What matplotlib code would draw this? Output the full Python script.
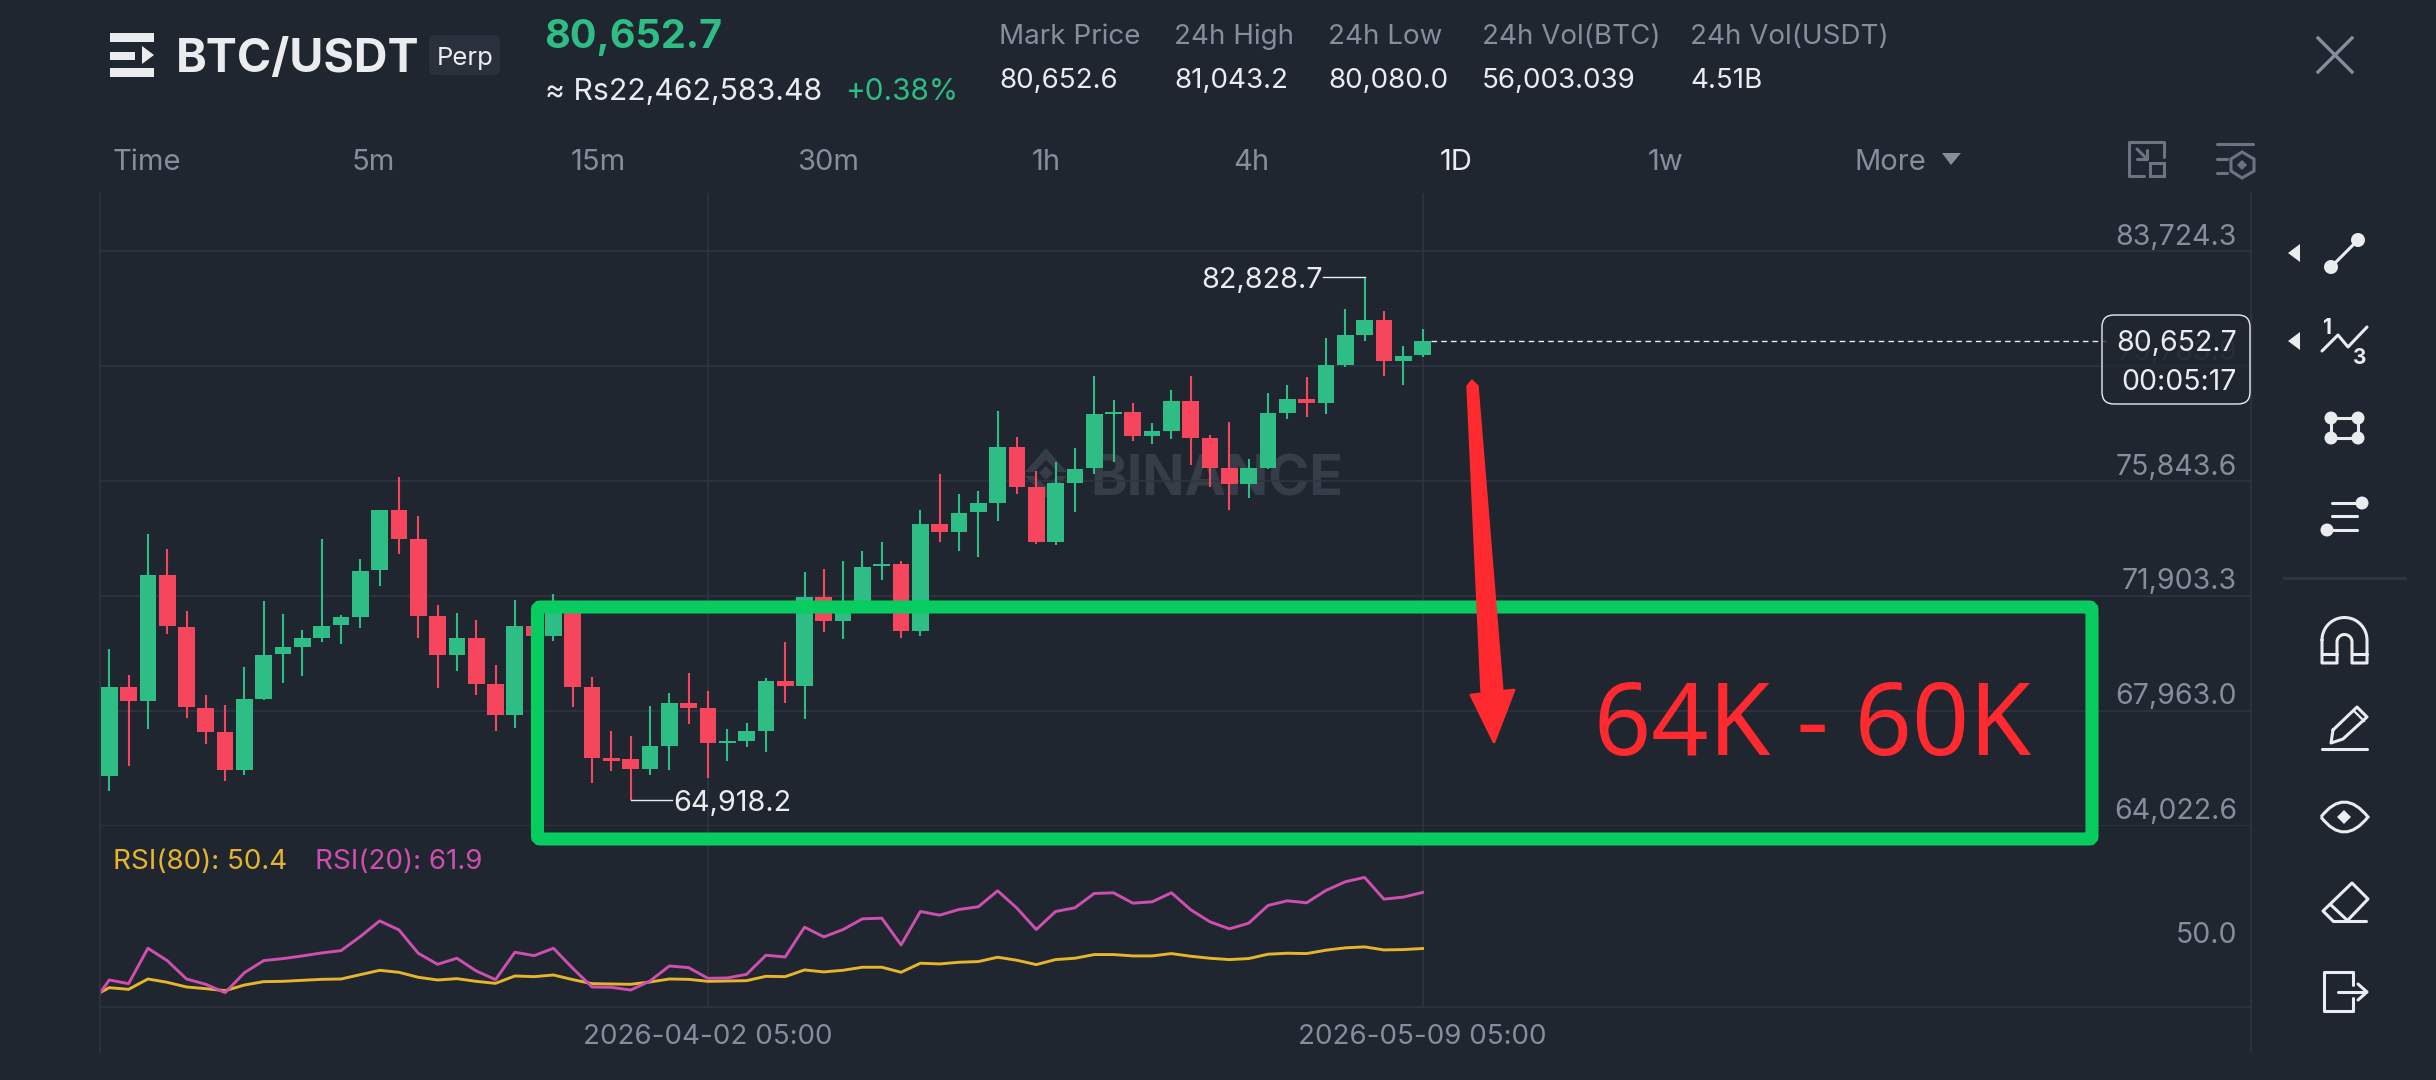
import numpy as np
import matplotlib
matplotlib.use('Agg')
import matplotlib.pyplot as plt
from matplotlib.patches import FancyBboxPatch, Polygon, PathPatch, Circle
from matplotlib.path import Path

plt.rcParams['font.family'] = ['Inter', 'DejaVu Sans']

# daily candles
highs = [70088, 69196, 74031, 73517, 71368, 68511, 68145, 69471, 71734, 71265, 70739, 73848, 71254, 73174, 74854,
         75974, 74626, 71585, 71322, 71059, 69539, 71768, 70945, 71974, 71608, 69128, 67265, 67082, 68133, 68579,
         69265, 68625, 67322, 67539, 69093, 70305, 72728, 72831, 73105, 73437, 73757, 73083, 74854, 76066, 75403,
         75483, 78259, 77356, 76201, 76510, 76978, 79436, 78636, 78521, 77836, 78979, 79436, 77424, 77859, 76613,
         78864, 79139, 79424, 80750, 81733, 82828.7, 81676, 80465, 81043.2]
lows = [65207, 66064, 67345, 70602, 67699, 66830, 65550, 65756, 68328, 68922, 69139, 70328, 70248, 70808, 72225,
        73323, 70454, 68739, 69333, 68499, 67287, 67379, 70511, 70362, 68099, 65482, 65882, 64918.2, 65744, 65927,
        67516, 65664, 66225, 66727, 66556, 68225, 67688, 70659, 70419, 71688, 72442, 70454, 70511, 73745, 73437,
        73243, 74464, 75390, 73687, 73652, 74772, 76075, 76498, 77207, 77104, 77276, 76407, 75630, 74864, 75264,
        76258, 77973, 78030, 78133, 79756, 80647, 79459, 79127, 80080.0]
opens = [65733, 68785, 68293, 72625, 70842, 68065, 67219, 65927, 68373, 69894, 70145, 70476, 70888, 71174, 72774,
         74831, 73860, 71197, 69882, 70465, 68865, 67825, 70854, 70522, 71459, 68773, 66350, 66316, 65962, 66750,
         68225, 68065, 66853, 66910, 67265, 68991, 68808, 71871, 71025, 71734, 72911, 73002, 70694, 74374, 74100,
         74774, 75104, 77024, 75641, 73744, 75790, 76281, 78133, 78213, 77390, 77573, 78601, 77321, 76281, 75744,
         76293, 78190, 78647, 78521, 79813, 80865, 81379, 79962, 80156]
closes = [68785, 68293, 72625, 70854, 68076, 67219, 65927, 68373, 69882, 70134, 70465, 70877, 71162, 72762, 74831,
          73860, 71197, 69882, 70465, 68876, 67825, 70854, 70522, 71459, 68773, 66350, 66247, 65962, 66750, 68225,
          68065, 66853, 66933, 67253, 68991, 68808, 71871, 71025, 71734, 72900, 73002, 70694, 74374, 74100, 74751,
          75094, 77024, 75653, 73744, 75778, 76270, 78133, 78213, 77390, 77573, 78601, 77321, 76293, 75744, 76281,
          78179, 78647, 78521, 79813, 80853, 81379, 79962, 80133, 80652.7]

# first value belongs to the candle just off the left edge
rsi_80 = [40.3, 42.40, 42.06, 44.18, 43.50, 42.54, 42.20, 41.79, 42.95, 43.64, 43.70, 43.91, 44.11, 44.18, 45.07,
          45.96, 45.55, 44.53, 43.98, 44.25, 43.70, 43.29, 44.80, 44.66, 45.00, 44.05, 43.22, 43.16, 43.09, 43.57,
          44.18, 44.11, 43.70, 43.77, 43.84, 44.73, 44.66, 46.04, 45.63, 45.97, 46.59, 46.59, 45.56, 47.41, 47.27,
          47.61, 47.75, 48.64, 48.02, 47.13, 48.16, 48.43, 49.19, 49.19, 48.91, 48.91, 49.39, 48.84, 48.43, 48.16,
          48.37, 49.26, 49.46, 49.39, 50.08, 50.56, 50.76, 50.14, 50.21, 50.42]
rsi_20 = [38.4, 43.98, 43.22, 50.48, 47.95, 44.18, 43.09, 41.38, 45.48, 47.95, 48.36, 48.91, 49.52, 50.00, 52.88,
          56.09, 54.24, 49.45, 47.19, 48.43, 45.83, 44.05, 49.66, 48.97, 50.48, 46.37, 42.54, 42.47, 41.92, 43.77,
          46.85, 46.51, 44.32, 44.39, 45.14, 49.04, 48.70, 54.80, 52.81, 54.32, 56.51, 56.65, 51.17, 58.02, 57.26,
          58.43, 58.98, 62.26, 58.70, 54.32, 58.02, 58.77, 61.71, 61.85, 59.73, 60.00, 61.85, 58.36, 55.89, 54.46,
          55.62, 59.25, 60.21, 59.80, 62.33, 64.11, 65.00, 60.55, 60.96, 61.92]

price_ticks = [83724.3, 79783.9, 75843.6, 71903.3, 67963.0, 64022.6]
rsi_tick = 50.0
date_pos = [31, 68]
date_labels = ['2026-04-02 05:00', '2026-05-09 05:00']
timeframes = ['Time', '5m', '15m', '30m', '1h', '4h', '1D', '1w', 'More']
stat_names = ['Mark Price', '24h High', '24h Low', '24h Vol(BTC)', '24h Vol(USDT)']
stat_values = ['80,652.6', '81,043.2', '80,080.0', '56,003.039', '4.51B']

BG = '#1F2630'
GRID = '#2F3540'
GREY = '#848E9C'
DIM = '#6B7483'
UP = '#2EBD85'
DOWN = '#F6465D'
WHITE = '#EAECEF'
ICON = '#EAECEF'
MARK = '#363D48'
W, H = 2436, 1080

fig = plt.figure(figsize=(W / 100, H / 100), dpi=100, facecolor=BG)


def axes_px(left, top, right, bottom):
    return fig.add_axes([left / W, 1 - bottom / H, (right - left) / W, (bottom - top) / H], facecolor='none')


def overlay(z):
    a = fig.add_axes([0, 0, 1, 1], facecolor='none', zorder=z)
    a.set_xlim(0, W)
    a.set_ylim(H, 0)
    a.axis('off')
    return a


x_lim = (-0.48, 110.9)
ax = axes_px(100, 193, 2251, 825.7)
rsi_ax = axes_px(100, 825.7, 2251, 1007)
ui = overlay(10)
wm = overlay(-1)

# Watermark sits behind the candles
wm.text(1090, 481, 'BINANCE', color=MARK, fontsize=40, fontweight='bold', va='center', ha='left')
wm.add_patch(Polygon([(1025, 472), (1046, 448), (1067, 472), (1058, 472), (1046, 460), (1034, 472)], fc=MARK, ec='none'))
wm.add_patch(Polygon([(1025, 476), (1046, 498), (1067, 476), (1058, 476), (1046, 486), (1034, 476)], fc=MARK, ec='none'))
wm.add_patch(Polygon([(1046, 466), (1053, 473), (1046, 480), (1039, 473)], fc=MARK, ec='none'))

# Price pane
idx = np.arange(len(closes))
ax.set_xlim(*x_lim)
ax.set_ylim(64022.6, 85718)
ax.set_xticks(date_pos)
ax.set_yticks(price_ticks)
ax.tick_params(length=0, labelbottom=False, labelleft=False)
ax.grid(color=GRID, lw=1.2, zorder=0)
ax.set_axisbelow(True)
for s in ax.spines.values():
    s.set_visible(False)

colors = [UP if c >= o else DOWN for o, c in zip(opens, closes)]
ax.vlines(idx, lows, highs, colors=colors, lw=1.5, zorder=3)
bottoms = [min(o, c) for o, c in zip(opens, closes)]
heights = [abs(o - c) for o, c in zip(opens, closes)]
ax.bar(idx, heights, bottom=bottoms, width=0.865, color=colors, zorder=3)

for val in price_ticks:
    ax.annotate(f'{val:,.1f}', xy=(1, val), xycoords=ax.get_yaxis_transform(), xytext=(-10, 10),
                textcoords='offset points', ha='right', va='center', color=GREY, fontsize=20.5,
                alpha=0.35 if val == 79783.9 else 1, zorder=2)

# High / low labels
hi_i, lo_i = highs.index(max(highs)), lows.index(min(lows))
ax.plot([hi_i - 2.15, hi_i], [max(highs)] * 2, color=WHITE, lw=1, zorder=4)
ax.plot([lo_i, lo_i + 2.15], [min(lows)] * 2, color=WHITE, lw=1, zorder=4)
ax.annotate('82,828.7', xy=(hi_i - 2.15, max(highs)), xytext=(0, -2), textcoords='offset points', ha='right',
            va='center', color=WHITE, fontsize=20.8)
ax.annotate('64,918.2', xy=(lo_i + 2.2, min(lows)), xytext=(0, -3), textcoords='offset points', ha='left',
            va='center', color=WHITE, fontsize=20.8)

# Last price line
ax.plot([68.45, 103.4], [closes[-1], closes[-1]], color=WHITE, lw=1, dashes=(4, 3), zorder=3)

# RSI pane
rsi_x = np.arange(-1, len(closes))
rsi_ax.set_xlim(*x_lim)
rsi_ax.set_ylim(38.44, 75.6)
rsi_ax.set_xticks(date_pos)
rsi_ax.set_xticklabels(date_labels, color=GREY, fontsize=20)
rsi_ax.set_yticks([])
rsi_ax.tick_params(length=0, pad=12)
rsi_ax.grid(axis='x', color=GRID, lw=1.2)
rsi_ax.set_axisbelow(True)
for name, s in rsi_ax.spines.items():
    s.set_visible(name == 'bottom')
    s.set_color(GRID)
    s.set_linewidth(1.2)
rsi_ax.plot(rsi_x, rsi_80, color='#E7B52C', lw=2.1)
rsi_ax.plot(rsi_x, rsi_20, color='#CF4FB0', lw=2.1)
rsi_ax.annotate(f'{rsi_tick:.1f}', xy=(1, rsi_tick), xycoords=rsi_ax.get_yaxis_transform(), xytext=(-10, 11),
                textcoords='offset points', ha='right', va='center', color=GREY, fontsize=20.5)
ui.text(113, 862, 'RSI(80): 50.4', color='#E7B52C', fontsize=20, va='center')
ui.text(315, 862, 'RSI(20): 61.9', color='#CF4FB0', fontsize=20, va='center')

# outer frame of the chart
ui.plot([100, 100], [193, 1052], color=GRID, lw=1.2)
ui.plot([2251, 2251], [193, 1052], color=GRID, lw=1.2)

# Header
ui.add_patch(Polygon([(110, 33), (154, 33), (154, 42), (110, 42)], fc=ICON, ec='none'))
ui.add_patch(Polygon([(110, 52), (135, 52), (135, 60), (110, 60)], fc=ICON, ec='none'))
ui.add_patch(Polygon([(142, 46), (154, 55), (142, 64)], fc=ICON, ec='none'))
ui.add_patch(Polygon([(110, 68), (154, 68), (154, 77), (110, 77)], fc=ICON, ec='none'))
ui.text(176, 60, 'BTC/USDT', color=WHITE, fontsize=33.5, fontweight='bold', va='center')
ui.add_patch(FancyBboxPatch((433, 39), 63, 32, boxstyle='round,pad=4,rounding_size=6', fc='#2B313C', ec='none'))
ui.text(465, 59, 'Perp', color=WHITE, fontsize=18.5, va='center', ha='center')
ui.text(544, 37, '80,652.7', color=UP, fontsize=28.5, fontweight='bold', va='center')
ui.text(545, 92, '\u2248 Rs22,462,583.48', color=WHITE, fontsize=21.8, va='center')
ui.text(845, 92, '+0.38%', color=UP, fontsize=21.4, va='center')
for x, name, val in zip([999, 1174, 1328, 1482, 1690], stat_names, stat_values):
    ui.text(x, 37, name, color=GREY, fontsize=20, va='center')
    ui.text(x, 81, val, color=WHITE, fontsize=20, va='center')

for x, lab in zip([113, 373, 598, 828, 1046, 1251, 1456, 1666, 1890], timeframes):
    ui.text(x, 163, lab, color=WHITE if lab == '1D' else GREY, fontsize=21, va='center',
            ha='left' if lab == 'Time' else 'center')
ui.add_patch(Polygon([(1942, 153), (1961, 153), (1951, 165)], fc=GREY, ec='none'))

# Close button and the two small icons top right
sm = dict(color=DIM, lw=2.2, solid_capstyle='round', solid_joinstyle='round')
ui.plot([2318, 2352], [38, 72], color=GREY, lw=2.4)
ui.plot([2318, 2352], [72, 38], color=GREY, lw=2.4)
ui.plot([2164, 2164, 2129, 2129, 2144], [157, 142, 142, 176, 176], **sm)
ui.add_patch(Polygon([(2150, 163), (2164, 163), (2164, 176), (2150, 176)], fc='none', ec=DIM, lw=2.2))
ui.plot([2137, 2147], [149, 159], **sm)
ui.plot([2147, 2147, 2137], [150, 159, 159], **sm)
ui.plot([2217, 2253], [144, 144], **sm)
ui.plot([2217, 2227], [159, 159], **sm)
ui.plot([2217, 2227], [173, 173], **sm)
ui.add_patch(Polygon([(2242, 152), (2254, 159), (2254, 171), (2242, 178), (2231, 171), (2231, 159)], fc='none',
                     ec=DIM, lw=2.2))
ui.add_patch(Polygon([(2242, 160), (2247, 165), (2242, 170), (2237, 165)], fc=DIM, ec='none'))

# Price box
ui.add_patch(FancyBboxPatch((2112, 325), 128, 69, boxstyle='round,pad=10,rounding_size=12', fc=BG, alpha=0.75,
                            ec='none', zorder=4))
ui.add_patch(FancyBboxPatch((2112, 325), 128, 69, boxstyle='round,pad=10,rounding_size=12', fc='none', ec=WHITE,
                            lw=1, zorder=5))
ui.text(2237, 343, '80,652.7', color=WHITE, fontsize=20.5, va='center', ha='right', zorder=6)
ui.text(2237, 382, '00:05:17', color=WHITE, fontsize=20.5, va='center', ha='right', zorder=6)

# Hand drawn box, arrow, target
ui.add_patch(FancyBboxPatch((537.5, 607), 1554.5, 232, boxstyle='round,pad=0,rounding_size=3', fc='none', ec='#08CC60',
                            lw=9.4, zorder=7))
ui.add_patch(Polygon([(1467, 386), (1472, 380), (1478, 386), (1503, 692), (1481, 692)], fc='#FF2A2F', ec='#FF2A2F',
                     lw=1, joinstyle='round', zorder=8))
ui.add_patch(Polygon([(1471, 695), (1514, 690), (1494, 742)], fc='#FF2A2F', ec='#FF2A2F', lw=2, joinstyle='round',
                     zorder=8))
ui.text(1594, 728, '64K - 60K', color='#FF2A2F', fontsize=72, va='center', zorder=7,
        family=['Noto Sans', 'DejaVu Sans'])

# Drawing tool icons
ic = dict(color=ICON, lw=2.2, solid_capstyle='round', solid_joinstyle='round')
for y in [253, 341]:
    ui.add_patch(Polygon([(2288, y), (2300, y - 9), (2300, y + 9)], fc=ICON, ec='none'))

ui.plot([2331, 2358], [267, 240], **ic)
ui.add_patch(Circle((2331, 267), 7, fc=ICON, ec='none'))
ui.add_patch(Circle((2358, 240), 7, fc=ICON, ec='none'))

ui.plot([2322, 2338, 2348, 2367], [351, 335, 347, 327], **ic)
ui.text(2327, 328, '1', color=ICON, fontsize=15, fontweight='bold', ha='center', va='center')
ui.text(2360, 358, '3', color=ICON, fontsize=15, fontweight='bold', ha='center', va='center')

corners = [(2331, 418), (2358, 418), (2358, 438), (2331, 438)]
ui.add_patch(Polygon(corners, fc='none', ec=ICON, lw=2.2))
for c in corners:
    ui.add_patch(Circle(c, 6.5, fc=ICON, ec='none'))

ui.plot([2332, 2362], [503, 503], **ic)
ui.plot([2332, 2357], [516, 516], **ic)
ui.plot([2327, 2357], [530, 530], **ic)
ui.add_patch(Circle((2362, 503), 6.5, fc=ICON, ec='none'))
ui.add_patch(Circle((2327, 530), 6.5, fc=ICON, ec='none'))
ui.plot([2284, 2405], [578, 578], color=GRID, lw=2.2)

# magnet
t = np.linspace(np.pi, 0, 30)
mx = list(2344.5 + 22.5 * np.cos(t)) + [2367, 2352] + list(2344.5 + 7.5 * np.cos(t[::-1])) + [2337, 2322, 2322]
my = list(640 - 22.5 * np.sin(t)) + [663, 663] + list(642 - 7.5 * np.sin(t[::-1])) + [663, 663, 640]
ui.plot(mx, my, **ic)
ui.plot([2322, 2337], [654, 654], **ic)
ui.plot([2352, 2367], [654, 654], **ic)

# pencil
ui.plot([2333, 2357, 2367, 2343, 2331, 2333], [730, 707, 717, 739, 743, 730], **ic)
ui.plot([2354, 2364], [711, 721], color=ICON, lw=1.6)
ui.plot([2322, 2367], [749, 749], **ic)

# eye
eye = Path([(2321, 817), (2344, 787), (2368, 817), (2344, 847), (2321, 817)],
           [Path.MOVETO, Path.CURVE3, Path.CURVE3, Path.CURVE3, Path.CURVE3])
ui.add_patch(PathPatch(eye, fc='none', ec=ICON, lw=2.2))
ui.add_patch(Polygon([(2344, 810), (2351, 817), (2344, 824), (2337, 817)], fc=ICON, ec='none'))

# eraser
ui.plot([2333, 2323, 2352, 2368, 2347], [921, 911, 883, 899, 921], **ic)
ui.plot([2333, 2366], [921, 921], **ic)
ui.plot([2331, 2347], [905, 920], **ic)

# exit
ui.plot([2353, 2353, 2324, 2324, 2353, 2353], [985, 972, 972, 1011, 1011, 998], **ic)
ui.plot([2338, 2365], [992, 992], **ic)
ui.plot([2358, 2367, 2358], [984, 992, 1000], **ic)

fig.savefig('out.png', dpi=100, facecolor=BG)
